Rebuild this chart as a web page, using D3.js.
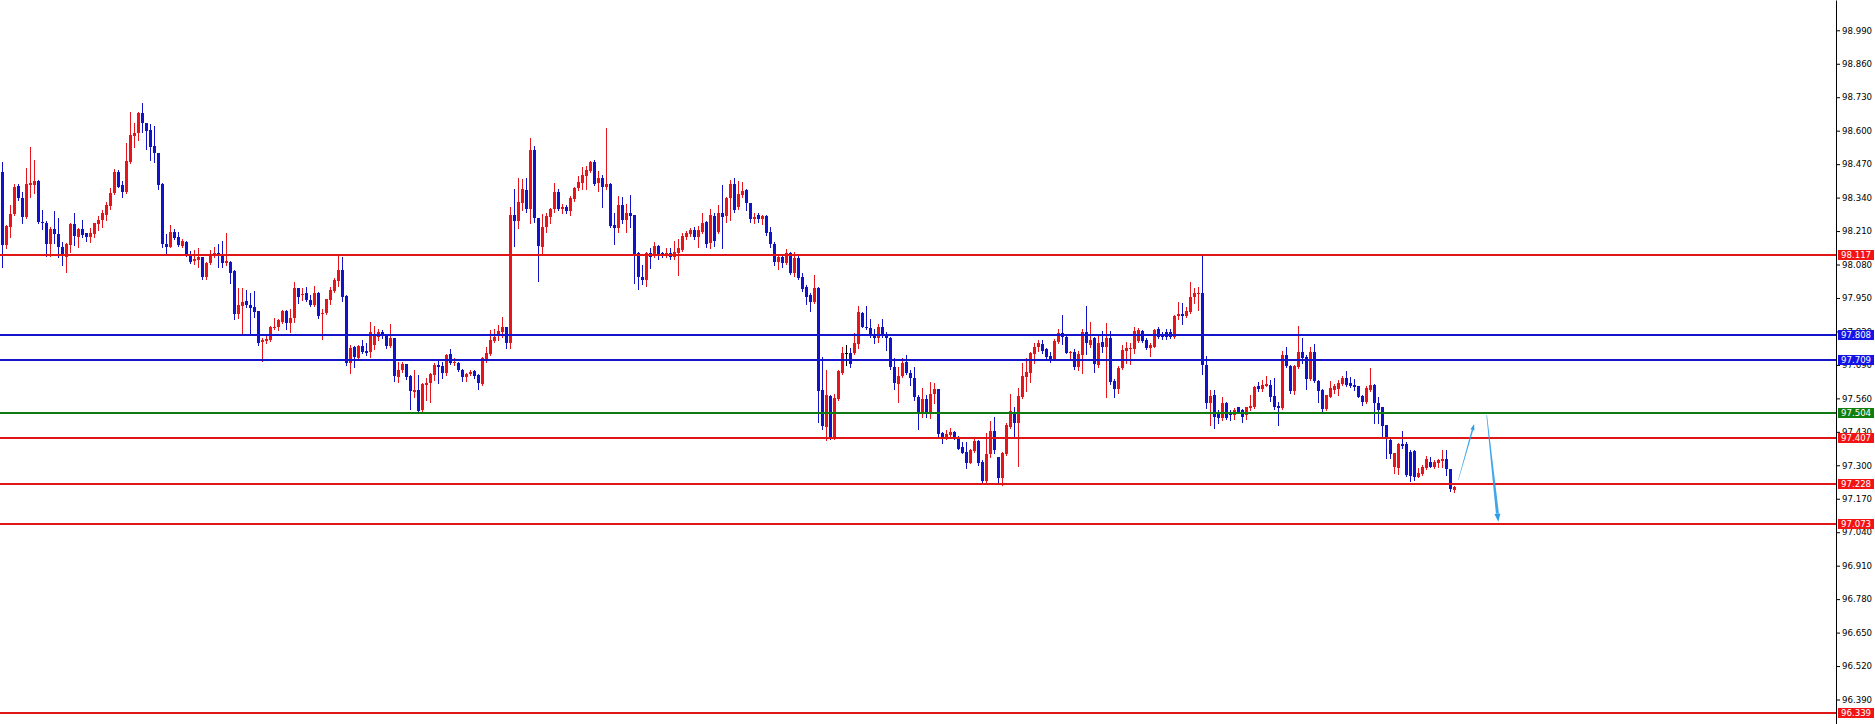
<!DOCTYPE html>
<html>
<head>
<meta charset="utf-8">
<script src="https://cdn.jsdelivr.net/npm/d3@7"></script>
<style>
  html, body { margin: 0; padding: 0; background: #ffffff; }
  svg { display: block; }
</style>
</head>
<body>
<svg id="chart" width="1875" height="724"></svg>
<script>
// ---------------- DATA ----------------
const openP = [
98.441,98.156,98.227,98.276,98.385,98.337,98.266,98.389,98.390,98.406,
98.246,98.243,98.158,98.217,98.199,98.148,98.111,98.156,98.236,98.188,
98.217,98.201,98.188,98.199,98.237,98.253,98.272,98.307,98.357,98.441,
98.389,98.363,98.480,98.579,98.592,98.670,98.629,98.603,98.540,98.512,
98.393,98.160,98.149,98.205,98.188,98.153,98.169,98.117,98.094,98.098,
98.108,98.033,98.085,98.117,98.124,98.117,98.087,98.091,98.055,97.888,
97.919,97.938,97.922,97.916,97.899,97.780,97.784,97.786,97.832,97.836,
97.858,97.899,97.854,97.871,97.987,97.961,97.968,97.942,97.922,97.970,
97.887,97.890,97.944,97.978,98.017,98.058,97.957,97.696,97.761,97.715,
97.763,97.745,97.741,97.767,97.799,97.819,97.810,97.763,97.793,97.644,
97.670,97.692,97.648,97.586,97.592,97.514,97.612,97.618,97.650,97.688,
97.685,97.657,97.731,97.696,97.698,97.672,97.644,97.654,97.666,97.650,
97.616,97.711,97.732,97.784,97.810,97.819,97.838,97.774,98.272,98.250,
98.320,98.369,98.295,98.525,98.259,98.149,98.224,98.263,98.294,98.363,
98.294,98.304,98.288,98.333,98.376,98.398,98.424,98.444,98.479,98.398,
98.415,98.380,98.393,98.233,98.223,98.311,98.253,98.279,98.271,98.123,
98.033,98.020,98.123,98.113,98.152,98.126,98.121,98.126,98.110,98.126,
98.136,98.185,98.198,98.214,98.188,98.207,98.245,98.162,98.268,98.207,
98.279,98.268,98.337,98.393,98.302,98.350,98.369,98.318,98.255,98.272,
98.255,98.268,98.206,98.160,98.091,98.108,98.087,98.123,98.048,98.104,
98.033,97.994,97.961,97.936,97.990,97.592,97.450,97.570,97.405,97.556,
97.657,97.737,97.737,97.735,97.771,97.893,97.838,97.834,97.812,97.793,
97.838,97.812,97.796,97.683,97.616,97.647,97.702,97.660,97.638,97.566,
97.508,97.556,97.508,97.577,97.595,97.424,97.408,97.417,97.430,97.411,
97.372,97.353,97.310,97.355,97.395,97.314,97.240,97.344,97.434,97.331,
97.249,97.344,97.450,97.504,97.465,97.567,97.644,97.660,97.732,97.758,
97.771,97.750,97.725,97.713,97.780,97.815,97.800,97.737,97.740,97.683,
97.728,97.819,97.767,97.793,97.690,97.779,97.761,97.793,97.629,97.598,
97.677,97.745,97.750,97.750,97.783,97.822,97.787,97.754,97.761,97.828,
97.802,97.819,97.819,97.797,97.880,97.888,97.880,97.897,97.952,97.965,
97.971,97.690,97.541,97.573,97.508,97.482,97.543,97.502,97.495,97.525,
97.515,97.495,97.521,97.525,97.608,97.595,97.610,97.612,97.569,97.530,
97.521,97.728,97.686,97.590,97.683,97.739,97.722,97.635,97.739,97.629,
97.592,97.517,97.566,97.592,97.595,97.616,97.638,97.618,97.612,97.608,
97.570,97.544,97.592,97.612,97.543,97.525,97.455,97.398,97.295,97.291,
97.381,97.381,97.353,97.355,97.256,97.266,97.288,97.314,97.295,97.307,
97.318,97.323,97.284,97.204
];
const highP = [
98.480,98.234,98.311,98.391,98.393,98.363,98.456,98.535,98.486,98.408,
98.292,98.250,98.224,98.288,98.259,98.169,98.162,98.240,98.281,98.223,
98.253,98.204,98.221,98.243,98.268,98.292,98.324,98.379,98.450,98.447,
98.406,98.551,98.673,98.629,98.671,98.706,98.631,98.625,98.618,98.515,
98.395,98.199,98.234,98.218,98.208,98.178,98.171,98.134,98.136,98.143,
98.111,98.091,98.136,98.149,98.158,98.173,98.201,98.095,98.059,97.987,
97.987,97.981,97.968,97.977,97.900,97.793,97.810,97.841,97.871,97.867,
97.903,97.903,97.906,98.013,97.990,97.990,97.994,97.961,97.996,97.972,
97.909,97.948,97.994,98.026,98.114,98.110,97.960,97.767,97.763,97.766,
97.786,97.774,97.858,97.841,97.829,97.825,97.812,97.847,97.794,97.700,
97.700,97.693,97.650,97.670,97.650,97.618,97.638,97.660,97.698,97.709,
97.702,97.731,97.751,97.715,97.700,97.676,97.657,97.672,97.670,97.654,
97.719,97.758,97.825,97.829,97.845,97.875,97.839,98.302,98.373,98.417,
98.411,98.417,98.570,98.540,98.262,98.275,98.281,98.298,98.395,98.372,
98.315,98.310,98.346,98.382,98.425,98.460,98.462,98.482,98.486,98.443,
98.427,98.609,98.395,98.279,98.346,98.341,98.315,98.350,98.273,98.127,
98.078,98.127,98.143,98.168,98.156,98.130,98.143,98.143,98.171,98.181,
98.201,98.211,98.220,98.227,98.229,98.279,98.249,98.295,98.279,98.311,
98.389,98.341,98.408,98.415,98.405,98.402,98.372,98.320,98.281,98.279,
98.272,98.272,98.227,98.169,98.113,98.117,98.140,98.130,98.130,98.117,
98.046,98.000,97.968,98.039,97.994,97.719,97.670,97.573,97.577,97.670,
97.761,97.767,97.754,97.815,97.919,97.897,97.919,97.867,97.828,97.849,
97.867,97.819,97.800,97.718,97.683,97.718,97.728,97.670,97.683,97.573,
97.599,97.573,97.625,97.621,97.596,97.430,97.437,97.446,97.433,97.414,
97.392,97.392,97.362,97.411,97.398,97.320,97.424,97.473,97.489,97.333,
97.353,97.465,97.577,97.528,97.599,97.696,97.715,97.741,97.774,97.787,
97.787,97.754,97.741,97.789,97.829,97.884,97.802,97.745,97.750,97.745,
97.828,97.919,97.855,97.797,97.802,97.823,97.851,97.822,97.634,97.686,
97.767,97.780,97.774,97.838,97.832,97.826,97.793,97.774,97.829,97.838,
97.819,97.831,97.831,97.884,97.936,97.932,97.916,98.013,97.987,97.994,
98.117,97.725,97.592,97.592,97.515,97.567,97.547,97.515,97.521,97.528,
97.517,97.528,97.573,97.608,97.625,97.631,97.647,97.631,97.638,97.547,
97.745,97.761,97.689,97.689,97.841,97.793,97.728,97.761,97.770,97.631,
97.595,97.575,97.629,97.616,97.631,97.647,97.667,97.642,97.634,97.609,
97.573,97.609,97.677,97.614,97.564,97.528,97.456,97.401,97.349,97.385,
97.433,97.392,97.359,97.359,97.288,97.301,97.336,97.331,97.320,97.324,
97.359,97.359,97.287,97.221
];
const lowP = [
98.072,98.143,98.188,98.272,98.331,98.243,98.262,98.344,98.357,98.240,
98.217,98.113,98.113,98.162,98.111,98.078,98.052,98.127,98.156,98.149,
98.188,98.173,98.169,98.188,98.214,98.224,98.253,98.294,98.354,98.380,
98.344,98.359,98.476,98.538,98.564,98.596,98.530,98.486,98.480,98.372,
98.147,98.121,98.147,98.179,98.153,98.149,98.113,98.087,98.082,98.072,
98.025,98.022,98.082,98.111,98.072,98.069,98.078,98.007,97.867,97.871,
97.806,97.916,97.810,97.877,97.767,97.706,97.774,97.784,97.828,97.825,
97.851,97.828,97.819,97.858,97.929,97.942,97.939,97.920,97.920,97.871,
97.789,97.887,97.926,97.974,97.996,97.938,97.689,97.657,97.683,97.711,
97.735,97.728,97.722,97.750,97.786,97.793,97.754,97.758,97.628,97.625,
97.663,97.634,97.517,97.566,97.507,97.508,97.553,97.547,97.631,97.621,
97.638,97.650,97.693,97.689,97.667,97.628,97.628,97.650,97.638,97.595,
97.612,97.702,97.728,97.780,97.786,97.797,97.757,97.757,98.153,98.220,
98.292,98.285,98.240,98.246,98.017,98.121,98.207,98.240,98.285,98.292,
98.279,98.282,98.273,98.328,98.369,98.373,98.373,98.438,98.389,98.367,
98.304,98.373,98.227,98.159,98.207,98.240,98.207,98.227,98.010,97.983,
98.004,97.998,98.065,98.110,98.100,98.108,98.108,98.100,98.101,98.039,
98.133,98.178,98.192,98.181,98.149,98.201,98.149,98.143,98.152,98.201,
98.143,98.246,98.253,98.285,98.294,98.343,98.292,98.246,98.240,98.246,
98.237,98.194,98.147,98.078,98.062,98.071,98.082,98.043,98.035,98.022,
97.978,97.925,97.900,97.932,97.469,97.440,97.398,97.401,97.401,97.553,
97.654,97.689,97.683,97.732,97.754,97.836,97.828,97.800,97.774,97.780,
97.800,97.748,97.673,97.596,97.547,97.644,97.654,97.612,97.553,97.440,
97.486,97.486,97.482,97.541,97.411,97.388,97.404,97.411,97.401,97.362,
97.346,97.291,97.307,97.353,97.301,97.230,97.227,97.331,97.346,97.230,
97.223,97.340,97.443,97.409,97.297,97.563,97.590,97.625,97.699,97.745,
97.737,97.715,97.700,97.709,97.774,97.770,97.735,97.715,97.673,97.670,
97.660,97.732,97.761,97.664,97.683,97.741,97.567,97.616,97.564,97.582,
97.673,97.696,97.693,97.737,97.779,97.779,97.750,97.724,97.758,97.793,
97.789,97.792,97.793,97.793,97.867,97.848,97.875,97.893,97.932,97.903,
97.655,97.521,97.456,97.443,97.463,97.476,97.478,97.476,97.478,97.504,
97.469,97.478,97.515,97.521,97.590,97.590,97.608,97.551,97.517,97.456,
97.517,97.683,97.579,97.577,97.677,97.696,97.596,97.631,97.625,97.547,
97.512,97.515,97.564,97.579,97.573,97.612,97.608,97.603,97.592,97.564,
97.534,97.541,97.590,97.465,97.463,97.414,97.327,97.327,97.271,97.266,
97.366,97.258,97.240,97.243,97.253,97.262,97.284,97.292,97.291,97.295,
97.295,97.262,97.201,97.197
];
const closeP = [
98.156,98.230,98.276,98.382,98.337,98.266,98.393,98.395,98.406,98.246,
98.240,98.160,98.218,98.199,98.147,98.113,98.160,98.236,98.192,98.218,
98.195,98.188,98.201,98.240,98.253,98.279,98.311,98.359,98.441,98.382,
98.363,98.482,98.583,98.592,98.670,98.629,98.600,98.535,98.512,98.389,
98.160,98.149,98.205,98.182,98.156,98.171,98.121,98.091,98.101,98.111,
98.033,98.087,98.117,98.124,98.113,98.087,98.094,98.048,97.888,97.923,
97.936,97.923,97.913,97.894,97.777,97.786,97.789,97.838,97.838,97.864,
97.900,97.854,97.871,97.990,97.955,97.965,97.942,97.922,97.970,97.881,
97.890,97.946,97.981,98.020,98.058,97.955,97.696,97.754,97.719,97.763,
97.741,97.737,97.819,97.802,97.819,97.802,97.763,97.793,97.648,97.672,
97.692,97.644,97.590,97.592,97.512,97.616,97.621,97.654,97.689,97.683,
97.657,97.728,97.696,97.700,97.670,97.644,97.654,97.663,97.648,97.618,
97.715,97.735,97.786,97.799,97.823,97.838,97.774,98.272,98.250,98.324,
98.373,98.295,98.525,98.259,98.153,98.224,98.268,98.295,98.363,98.295,
98.302,98.288,98.339,98.378,98.402,98.427,98.447,98.479,98.393,98.415,
98.382,98.393,98.229,98.223,98.311,98.253,98.279,98.269,98.121,98.030,
98.020,98.123,98.110,98.152,98.113,98.113,98.126,98.110,98.130,98.143,
98.190,98.201,98.214,98.188,98.214,98.242,98.158,98.271,98.171,98.281,
98.266,98.337,98.393,98.292,98.354,98.365,98.318,98.255,98.266,98.255,
98.268,98.204,98.160,98.091,98.108,98.087,98.123,98.048,98.104,98.029,
97.983,97.955,97.936,97.990,97.590,97.452,97.573,97.405,97.560,97.666,
97.737,97.737,97.693,97.774,97.897,97.838,97.834,97.806,97.793,97.838,
97.806,97.793,97.680,97.618,97.647,97.698,97.657,97.638,97.566,97.508,
97.556,97.506,97.577,97.595,97.420,97.411,97.421,97.430,97.411,97.364,
97.349,97.310,97.359,97.395,97.310,97.240,97.344,97.434,97.360,97.249,
97.349,97.456,97.511,97.463,97.569,97.647,97.664,97.735,97.761,97.774,
97.745,97.722,97.713,97.783,97.815,97.797,97.737,97.741,97.683,97.732,
97.819,97.774,97.787,97.692,97.776,97.761,97.793,97.625,97.595,97.679,
97.748,97.754,97.754,97.823,97.826,97.783,97.754,97.767,97.826,97.797,
97.797,97.797,97.797,97.880,97.888,97.881,97.899,97.955,97.968,97.971,
97.690,97.541,97.570,97.489,97.482,97.543,97.482,97.495,97.515,97.508,
97.486,97.525,97.530,97.605,97.595,97.612,97.616,97.566,97.525,97.521,
97.728,97.686,97.590,97.686,97.741,97.715,97.635,97.739,97.629,97.590,
97.517,97.573,97.599,97.608,97.618,97.638,97.612,97.608,97.603,97.566,
97.547,97.599,97.612,97.541,97.515,97.452,97.401,97.344,97.346,97.381,
97.375,97.262,97.258,97.256,97.271,97.295,97.324,97.295,97.311,97.320,
97.323,97.284,97.206,97.217
];

// horizontal levels (price) and their kinds
const levelPrices = [98.117, 97.808, 97.709, 97.504, 97.407, 97.228, 97.073, 96.339];
const levelKinds  = ["red", "blue", "blue", "green", "red", "red", "red", "red"];

// right price axis tick labels
const tickLabels = ["99.120","98.990","98.860","98.730","98.600","98.470","98.340","98.210",
  "98.080","97.950","97.820","97.690","97.560","97.430","97.300","97.170","97.040",
  "96.910","96.780","96.650","96.520","96.390"];

// hand-drawn forecast arrows: [startBar, startPrice, endBar, endPrice]
const arrowUp   = [363.95, 97.243, 367.9, 97.460];
const arrowDown = [371.05, 97.495, 373.95, 97.081];

// ---------------- STYLE ----------------
const W = 1875, H = 724, axisX = 1836;
const colBull = "#e8141c", colBear = "#1212c8", colDoji = "#000000";
const lineColors = { red: "#e01616", blue: "#1414cc", green: "#0f7a0f" };
const boxColors  = { red: "#f21414", blue: "#1414e6", green: "#0f800f" };
const arrowColor = "#2c9be8";
const fontFam = "'DejaVu Sans', Verdana, sans-serif";

const svg = d3.select("#chart");
svg.append("rect").attr("width", W).attr("height", H).attr("fill", "#ffffff");

const n = openP.length;
const x = d3.scaleLinear().domain([0, n - 1]).range([2.5, 2.5 + 4 * (n - 1)]);
const y = d3.scaleLinear().domain([96.2949, 99.1077]).range([H, 0]);

const candles = d3.range(n).map(i => ({
  i, o: openP[i], h: highP[i], l: lowP[i], c: closeP[i]
}));
const colorOf = d => d.c > d.o ? colBull : (d.c < d.o ? colBear : colDoji);

const plot = svg.append("g");

// wicks
plot.append("g").selectAll("rect").data(candles).join("rect")
  .attr("x", d => x(d.i) - 0.5)
  .attr("y", d => Math.round(y(d.h)))
  .attr("width", 1)
  .attr("height", d => Math.max(1, Math.round(y(d.l)) - Math.round(y(d.h)) + 1))
  .attr("fill", colorOf);

// bodies
plot.append("g").selectAll("rect").data(candles).join("rect")
  .attr("x", d => x(d.i) - 1.5)
  .attr("y", d => Math.round(y(Math.max(d.o, d.c))))
  .attr("width", 3)
  .attr("height", d => Math.max(1, Math.round(y(Math.min(d.o, d.c))) - Math.round(y(Math.max(d.o, d.c)))))
  .attr("fill", colorOf);

// horizontal level lines
const levels = levelPrices.map((p, k) => ({ p, kind: levelKinds[k] }));
svg.append("g").selectAll("line").data(levels).join("line")
  .attr("x1", 0).attr("x2", axisX)
  .attr("y1", d => Math.round(y(d.p)))
  .attr("y2", d => Math.round(y(d.p)))
  .attr("stroke", d => lineColors[d.kind])
  .attr("stroke-width", 2);

// arrows (tapered shafts with heads)
function drawArrow(a, w0, w1, headLen, headW) {
  const x0 = x(a[0]), y0 = y(a[1]), x1 = x(a[2]), y1 = y(a[3]);
  const dx = x1 - x0, dy = y1 - y0, len = Math.hypot(dx, dy);
  const ux = dx / len, uy = dy / len, px = -uy, py = ux;
  const bx = x1 - ux * headLen, by = y1 - uy * headLen;
  const shaft = [
    [x0 + px * w0 / 2, y0 + py * w0 / 2],
    [bx + px * w1 / 2, by + py * w1 / 2],
    [bx - px * w1 / 2, by - py * w1 / 2],
    [x0 - px * w0 / 2, y0 - py * w0 / 2]
  ];
  const head = [
    [x1, y1],
    [bx + px * headW / 2, by + py * headW / 2],
    [bx - px * headW / 2, by - py * headW / 2]
  ];
  const g = svg.append("g");
  g.append("polygon").attr("points", shaft.map(p => p.join(",")).join(" "))
    .attr("fill", arrowColor).attr("opacity", 0.9);
  g.append("polygon").attr("points", head.map(p => p.join(",")).join(" "))
    .attr("fill", arrowColor);
}
drawArrow(arrowUp, 0.4, 1.6, 6, 4);
drawArrow(arrowDown, 0.6, 3.0, 8, 6);

// white area right of axis
svg.append("rect").attr("x", axisX + 1).attr("y", 0).attr("width", W - axisX - 1).attr("height", H).attr("fill", "#ffffff");

// price axis
const axis = d3.axisRight(y)
  .tickValues(tickLabels.map(Number))
  .tickFormat(d3.format(".3f"))
  .tickSize(4)
  .tickSizeOuter(0)
  .tickPadding(2);
const ag = svg.append("g").attr("transform", `translate(${axisX},0)`).call(axis);
ag.select(".domain").attr("stroke", "#000");
ag.selectAll(".tick line").attr("stroke", "#000");
ag.selectAll(".tick text")
  .attr("fill", "#000")
  .style("font-family", fontFam)
  .style("font-size", "8.6px");

// level price labels
const lab = svg.append("g").selectAll("g").data(levels).join("g")
  .attr("transform", d => `translate(${axisX + 2},${Math.round(y(d.p))})`);
lab.append("rect")
  .attr("x", 0).attr("y", -5).attr("width", 36).attr("height", 10)
  .attr("fill", d => boxColors[d.kind]);
lab.append("text")
  .attr("x", 3).attr("y", 0).attr("dy", "0.36em")
  .attr("fill", "#ffffff")
  .style("font-family", fontFam)
  .style("font-size", "8.6px")
  .text(d => d.p.toFixed(3));
</script>
</body>
</html>
